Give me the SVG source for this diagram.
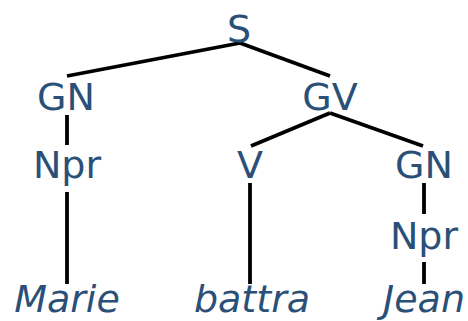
<svg xmlns="http://www.w3.org/2000/svg" width="468" height="321" viewBox="0 0 468 321">
<style>
text{font-family:"DejaVu Sans","Liberation Sans",sans-serif;font-size:38px;fill:#2a5078;text-anchor:middle}
.w{font-style:italic}
line{stroke:#000;stroke-width:3.8;stroke-linecap:butt}
</style>
<rect width="468" height="321" fill="#fff"/>
<g id="connectors">
<line x1="240" y1="43" x2="67" y2="76"/>
<line x1="240" y1="43" x2="330" y2="76"/>
<line x1="67" y1="115" x2="67" y2="145"/>
<line x1="330" y1="113" x2="251" y2="146"/>
<line x1="330" y1="113" x2="423" y2="146"/>
<line x1="67" y1="192" x2="67" y2="284"/>
<line x1="250" y1="183" x2="250" y2="284"/>
<line x1="424" y1="183" x2="424" y2="214"/>
<line x1="424" y1="262" x2="424" y2="284"/>
</g>
<g id="S"><text x="239" y="42">S</text></g>
<g id="GN1"><text x="66" y="110">GN</text></g>
<g id="GV"><text x="330" y="110">GV</text></g>
<g id="Npr1"><text x="67" y="178">Npr</text></g>
<g id="V"><text x="250" y="178">V</text></g>
<g id="GN2"><text x="424" y="178">GN</text></g>
<g id="Npr2"><text x="424" y="249">Npr</text></g>
<g id="Marie"><text class="w" x="67" y="312">Marie</text></g>
<g id="battra"><text class="w" x="252" y="312">battra</text></g>
<g id="Jean"><text class="w" x="424" y="312">Jean</text></g>
</svg>
